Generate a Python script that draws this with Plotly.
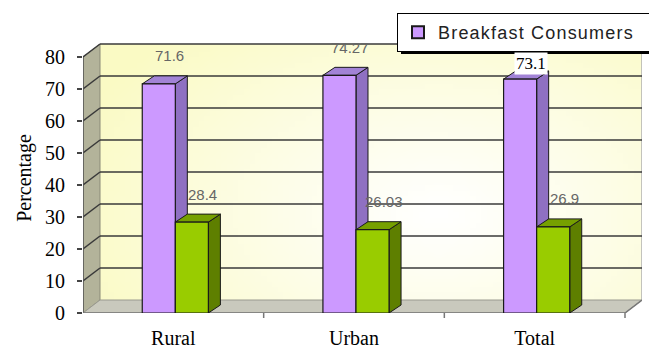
import base64
import struct
import zlib
import plotly.graph_objects as go

# ---------------- data ----------------
categories = ["Rural", "Urban", "Total"]
consumers = [71.6, 74.27, 73.1]
non_consumers = [28.4, 26.03, 26.9]
consumer_labels = ["71.6", "74.27", "73.1"]
non_consumer_labels = ["28.4", "26.03", "26.9"]
y_ticks = [0, 10, 20, 30, 40, 50, 60, 70, 80]
legend_name = "Breakfast Consumers"
y_title = "Percentage"

# ---------------- geometry / style ----------------
W, H = 649, 349
ML, MR, MT, MB = 83, 7, 43, 36
PXX = 180.67          # px per category unit
PXY = 3.2             # px per percentage unit
DXB = 17 / PXX        # back wall depth offset
DYB = 13 / PXY
DXBAR = 12 / PXX      # bar depth offset
DYBAR = 8 / PXY
X0 = -0.5
XF = len(categories) - 0.5
XR = XF + DXB
YMAX = y_ticks[-1]
YTOP = (H - MT - MB) / PXY
BAR_W = 0.183
OFF_A = -0.172
OFF_B = 0.011

PURPLE = ["#cc99ff", "#8f70c2", "#a283d6"]   # front, side, top
GREEN = ["#99cc00", "#5e7f00", "#76a000"]
EDGE = "#1a1a1a"
SERIF = "Liberation Serif"
SANS = "Liberation Sans"


def gradient_png(w, h):
    rows = b""
    cx, cy, rx, ry = 0.62 * w, 0.65 * h, 0.72 * w, 0.95 * h
    edge = (250, 250, 196)
    for j in range(h):
        row = b"\x00"
        for i in range(w):
            t = min(1.0, (((i - cx) / rx) ** 2 + ((j - cy) / ry) ** 2) ** 0.5)
            t = t ** 1.1
            r = round(255 * (1 - t) + edge[0] * t)
            g = round(255 * (1 - t) + edge[1] * t)
            b = round(255 * (1 - t) + edge[2] * t)
            row += bytes((r, g, b))
        rows += row

    def chunk(tag, data):
        c = struct.pack(">I", len(data)) + tag + data
        return c + struct.pack(">I", zlib.crc32(tag + data) & 0xFFFFFFFF)

    png = b"\x89PNG\r\n\x1a\n"
    png += chunk(b"IHDR", struct.pack(">IIBBBBB", w, h, 8, 2, 0, 0, 0))
    png += chunk(b"IDAT", zlib.compress(rows, 9))
    png += chunk(b"IEND", b"")
    return "data:image/png;base64," + base64.b64encode(png).decode()


def poly(pts, fill, line=EDGE, width=1, layer="between"):
    d = "M " + " L ".join(f"{x},{y}" for x, y in pts) + " Z"
    return dict(type="path", path=d, xref="x", yref="y", fillcolor=fill,
                line=dict(color=line, width=width), layer=layer)


def seg(x0, y0, x1, y1, color="#3a3a3a", width=1.5, layer="between"):
    return dict(type="line", x0=x0, y0=y0, x1=x1, y1=y1, xref="x", yref="y",
                line=dict(color=color, width=width), layer=layer)


x_idx = list(range(len(categories)))

fig = go.Figure()
fig.add_trace(go.Bar(
    x=x_idx, y=consumers, name=f'<span style="letter-spacing:1.2px">{legend_name}</span>',
    width=BAR_W, offset=OFF_A,
    marker=dict(color=PURPLE[0], line=dict(color=EDGE, width=1.2)),
    showlegend=True))
fig.add_trace(go.Bar(
    x=x_idx, y=non_consumers, name="Non-consumers", width=BAR_W, offset=OFF_B,
    marker=dict(color=GREEN[0], line=dict(color=EDGE, width=1.2)),
    showlegend=False))

shapes = []
# left side wall
shapes.append(poly([(X0, 0), (X0, YMAX), (X0 + DXB, YMAX + DYB), (X0 + DXB, DYB)],
                   "#b3b39a", line="#8a8a78", width=1))
# floor
shapes.append(poly([(X0, 0), (XF, 0), (XR, DYB), (X0 + DXB, DYB)],
                   "#c9c9bd", line="#9a9a90", width=1))
# back wall right edge
shapes.append(seg(XR, DYB, XR, YMAX + DYB, color="#b0b0b0", width=1.5))
# grid lines (back wall and side wall)
for v in y_ticks[1:]:
    shapes.append(seg(X0 + DXB, v + DYB, XR, v + DYB))
    shapes.append(seg(X0, v, X0 + DXB, v + DYB))
# front vertical axis line
shapes.append(seg(X0, 0, X0, YMAX, color="#555555", width=1.5))
# front horizontal axis line
shapes.append(seg(X0, 0, XF, 0, color="#777777", width=1.5))
shapes.append(seg(XF, 0, XR, DYB, color="#777777", width=1.5))
# category boundary ticks
for b in x_idx:
    xb = b + 0.5
    shapes.append(dict(type="line", xref="x", yref="paper", x0=xb, x1=xb,
                       y0=0, y1=-5 / (H - MT - MB), line=dict(color="#777777", width=1.5)))

# 3D faces for bars
for vals, off, cols in ((consumers, OFF_A, PURPLE), (non_consumers, OFF_B, GREEN)):
    for i, v in zip(x_idx, vals):
        xa = i + off
        xb = xa + BAR_W
        shapes.append(poly([(xb, 0), (xb + DXBAR, DYBAR), (xb + DXBAR, v + DYBAR), (xb, v)], cols[1]))
        shapes.append(poly([(xa, v), (xa + DXBAR, v + DYBAR), (xb + DXBAR, v + DYBAR), (xb, v)], cols[2]))

# legend shadow
pw, ph = W - ML - MR, H - MT - MB
shapes.append(dict(type="rect", xref="paper", yref="paper",
                   x0=(401 - ML) / pw, x1=(720 - ML) / pw,
                   y0=(H - MB - 54) / ph, y1=(H - MB - 17) / ph,
                   fillcolor="#000000", line=dict(width=0), layer="above"))

annotations = []
for vals, labels, off in ((consumers, consumer_labels, OFF_A), (non_consumers, non_consumer_labels, OFF_B)):
    for i, v, t in zip(x_idx, vals, labels):
        special = (t == "73.1")
        annotations.append(dict(
            x=i + off + BAR_W / 2, y=v, xref="x", yref="y", text=t, showarrow=False,
            xshift=11, yshift=16 if special else 28,
            font=dict(family=SERIF if special else SANS, size=17 if special else 15,
                      color="#000000" if special else "#666666"),
            bgcolor="#ffffff" if special else None))

fig.update_layout(
    width=W, height=H,
    margin=dict(l=ML, r=MR, t=MT, b=MB, pad=0, autoexpand=False),
    paper_bgcolor="#ffffff", plot_bgcolor="rgba(0,0,0,0)",
    barmode="overlay",
    shapes=shapes,
    annotations=annotations,
    images=[dict(source=gradient_png(96, 48), xref="x", yref="y",
                 x=X0 + DXB, y=YMAX + DYB, sizex=XR - (X0 + DXB), sizey=YMAX,
                 xanchor="left", yanchor="top", sizing="stretch", layer="below")],
    legend=dict(x=(397 - ML) / pw, y=(H - MB - 13) / ph, xanchor="left", yanchor="top",
                orientation="h",
                bgcolor="#ffffff", bordercolor="#000000", borderwidth=1,
                font=dict(family=SANS, size=18, color="#222222"),
                entrywidth=300, entrywidthmode="pixels",
                itemsizing="constant"),
    xaxis=dict(range=[X0, XR], tickvals=x_idx, ticktext=categories, ticks="",
               showgrid=False, zeroline=False, showline=False, automargin=False,
               tickfont=dict(family=SERIF, size=20, color="#000000"),
               ticklabelstandoff=11),
    yaxis=dict(range=[0, YTOP], tickvals=y_ticks, ticks="outside", ticklen=5,
               tickcolor="#444444", tickwidth=1.5, showgrid=False, zeroline=False,
               showline=False, automargin=False,
               tickfont=dict(family=SERIF, size=20, color="#000000"),
               ticklabelstandoff=8,
               title=dict(text=y_title, font=dict(family=SERIF, size=20, color="#000000"),
                          standoff=8)),
    showlegend=True,
)

fig.write_html("out.html")
